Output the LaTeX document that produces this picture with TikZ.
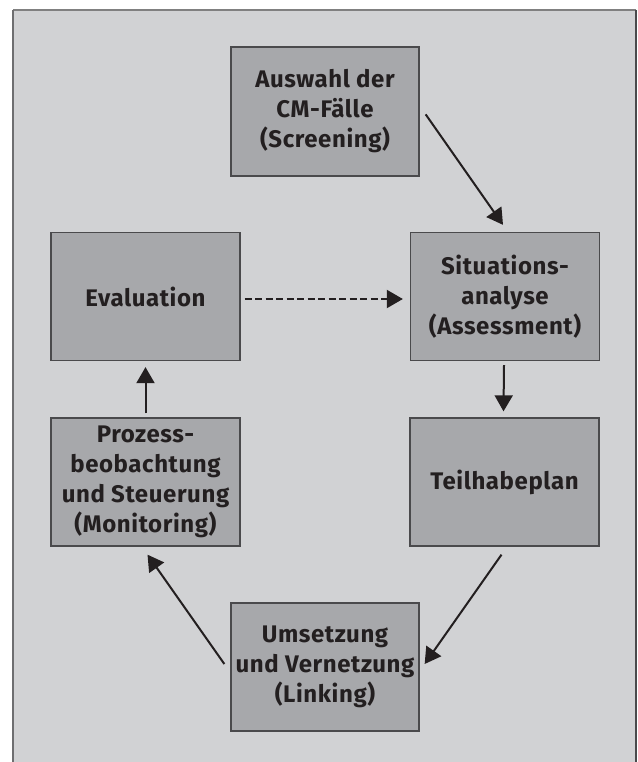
\documentclass[tikz,border=0pt]{standalone}
\usepackage{fontspec}
\setmainfont{Fira Sans}[LetterSpace=2.5]
\usetikzlibrary{arrows.meta,calc}
\definecolor{bg}{HTML}{D1D2D4}
\definecolor{boxfill}{HTML}{A7A8AB}
\definecolor{boxline}{HTML}{4A4A4C}
\definecolor{ink}{HTML}{231F20}
\tikzset{
  stepbox/.style={draw=boxline, line width=1.3pt, fill=boxfill, minimum width=188pt, minimum height=128pt, inner sep=0pt, align=center, text=ink, font=\fontsize{24}{30}\selectfont\bfseries},
  conn/.style={draw=ink, line width=2pt, -{Triangle[length=16pt,width=18pt]}},
  dconn/.style={conn, dash pattern=on 7pt off 3.5pt}
}
\begin{document}
\begin{tikzpicture}[x=1pt,y=-1pt]
\useasboundingbox (0,0) rectangle (637,762);
\fill[bg] (13,10) rectangle (637,770);
\draw[gray, line width=1.2pt] (13,10) -- (636,10);
\draw[boxline!80, line width=1.2pt] (13,10) -- (13,770);
\draw[boxline, line width=1.5pt] (636,10) -- (636,770);

\node[stepbox, minimum height=129pt] (A) at (325,111.5) {Auswahl der\\CM-Fälle\\(Screening)};
\node[stepbox, minimum width=189pt] (S) at (505,296.5) {Situations-\\analyse\\(Assessment)};
\node[stepbox, minimum width=189pt] (E) at (145.5,296.5) {Evaluation};
\node[stepbox, minimum width=189pt] (T) at (504.5,482) {Teilhabeplan};
\node[stepbox, minimum width=189pt] (P) at (145.5,482) {Prozess-\\beobachtung\\und Steuerung\\(Monitoring)};
\node[stepbox] (U) at (325,667) {Umsetzung\\und Vernetzung\\(Linking)};

\draw[conn] ($(A.north east)+(6,68)$) -- ($(S.north)+(-2,-7)$);
\draw[dconn] ($(E.east)+(4,2.5)$) -- ($(S.west)+(-7,2.5)$);
\draw[conn] ($(S.south)+(-1,4)$) -- ($(T.north)+(-1,-6)$);
\draw[conn] ($(T.south)+(-3,8)$) -- ($(U.east)+(5,-3)$);
\draw[conn] ($(U.west)+(-6,-3)$) -- ($(P.south)+(2,8)$);
\draw[conn] ($(P.north)+(0,-4)$) -- ($(E.south)+(0,6)$);
\end{tikzpicture}
\end{document}
